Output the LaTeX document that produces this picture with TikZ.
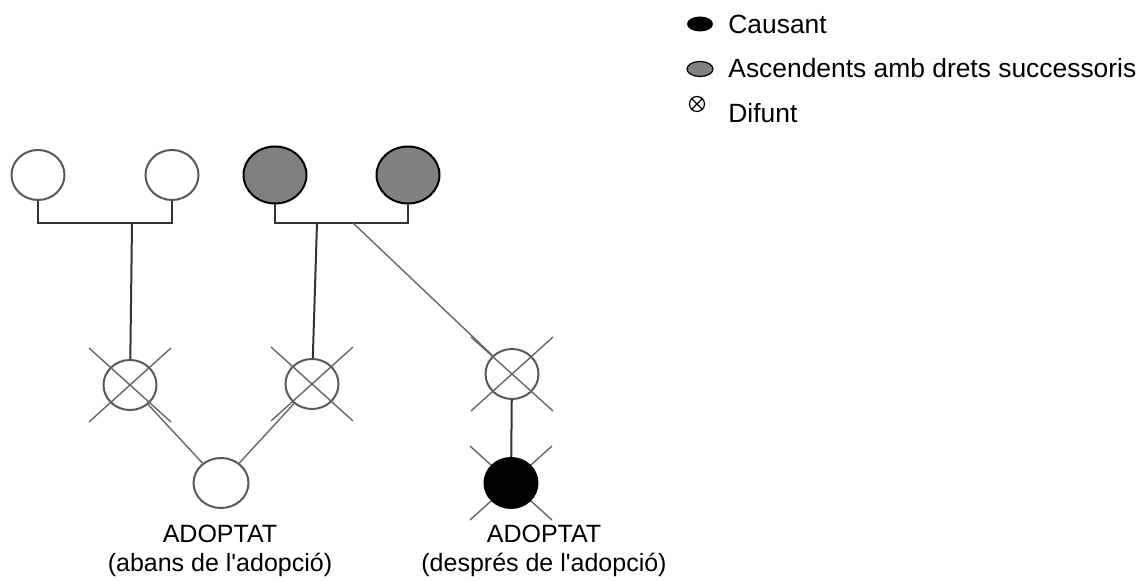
\documentclass[tikz,border=0pt]{standalone}
\usepackage{fontspec}
\setmainfont{Liberation Sans}
\usetikzlibrary{shapes.geometric,backgrounds}

\tikzset{
  persona/.style={ellipse, draw=black!65, line width=1pt, fill=white, minimum width=26.5pt, minimum height=25pt, inner sep=0pt},
  ascendent/.style={persona, draw=black, fill=black!50, minimum width=31.5pt, minimum height=28.5pt},
  causant/.style={persona, draw=black, fill=black},
  branca/.style={draw=black!80, line width=1pt},
  fil/.style={draw=black!60, line width=0.7pt},
  creu/.style={draw=black!60, line width=0.7pt},
  etiqueta/.style={align=center, font=\fontsize{12.5}{14.5}\selectfont, inner sep=0pt},
  llegenda/.style={anchor=base west, font=\fontsize{13.2}{15}\selectfont, inner sep=0pt}
}
\newcommand{\creu}[1]{
\draw[creu] (#1) ++(-41,-37) -- ++(82,74);
\draw[creu] (#1) ++(-41,37) -- ++(82,-74);
}

\begin{document}
\begin{tikzpicture}[x=0.5pt, y=-0.5pt]
\useasboundingbox (0,0) rectangle (1147,581);

\node[persona] (avi1) at (38,175) {};
\node[persona] (avia1) at (172,175) {};
\node[ascendent] (avi2) at (275,175) {};
\node[ascendent] (avia2) at (408,175) {};

\coordinate (unio1) at (132,223);
\coordinate (unio2) at (317,223);
\coordinate (unio3) at (353,223);

\draw[branca] (avi1) -- (avi1 |- unio1) -- (avia1 |- unio1) -- (avia1);
\draw[branca] (avi2) -- (avi2 |- unio2) -- (avia2 |- unio2) -- (avia2);


\node[persona] (pare1) at (130,385) {};
\node[persona] (pare2) at (312,384) {};
\node[persona] (pare3) at (512,374) {};
\node[persona, minimum width=27.5pt] (adoptat1) at (221,483) {};
\node[causant] (adoptat2) at (511,483) {};

\creu{pare1}
\creu{pare2}
\creu{pare3}
\begin{scope}[on background layer]
\creu{adoptat2}
\end{scope}


\draw[branca] (unio1) -- (pare1);
\draw[branca] (unio2) -- (pare2);
\draw[fil] (unio3) -- (pare3);

\draw[fil] (pare1) -- (adoptat1);
\draw[fil] (pare2) -- (adoptat1);
\draw[branca] (pare3) -- (adoptat2);


\node[etiqueta] (nota1) at (220,551) {ADOPTAT\\(abans de l\textquotesingle adopció)};
\node[etiqueta] (nota2) at (544,551) {ADOPTAT\\(després de l\textquotesingle adopció)};


\node[ellipse, fill=black, minimum width=13pt, minimum height=7.5pt, inner sep=0pt] (simbcausant) at (700,24) {};
\node[llegenda] (textcausant) at (728,34) {Causant};

\node[ellipse, draw=black, fill=black!50, line width=0.6pt, minimum width=13pt, minimum height=7.5pt, inner sep=0pt] (simbascendent) at (700,69) {};
\node[llegenda] (textascendent) at (728,78) {Ascendents amb drets successoris};

\node[circle, draw, line width=0.6pt, minimum size=7.5pt, inner sep=0pt] (simbdifunt) at (697,104) {};
\draw[line width=0.6pt] (simbdifunt.north west) -- (simbdifunt.south east);
\draw[line width=0.6pt] (simbdifunt.north east) -- (simbdifunt.south west);
\node[llegenda] (textdifunt) at (728,123) {Difunt};
\end{tikzpicture}
\end{document}
